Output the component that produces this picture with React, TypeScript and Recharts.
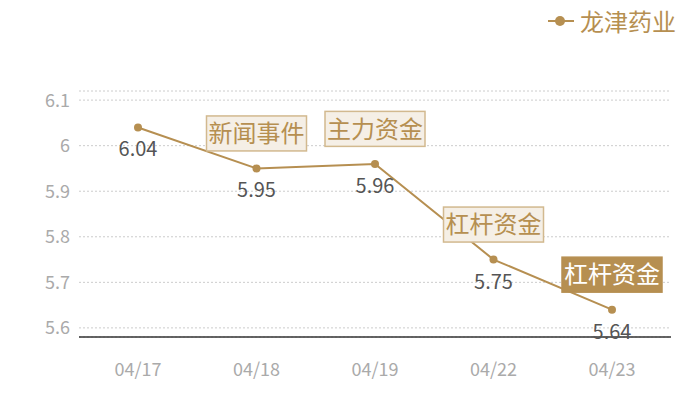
import React from "react";
import {
  LineChart,
  Line,
  XAxis,
  YAxis,
  CartesianGrid,
  LabelList,
} from "recharts";

const dates = ["04/17", "04/18", "04/19", "04/22", "04/23"];
const prices = [6.04, 5.95, 5.96, 5.75, 5.64];
const events = ["", "新闻事件", "主力资金", "杠杆资金", "杠杆资金"];
const highlighted = [false, false, false, false, true];
const yTicks = [5.6, 5.7, 5.8, 5.9, 6, 6.1];

const seriesName = "龙津药业";
const gold = "#b68f51";
const font = '"Noto Sans CJK SC", "Noto Sans", sans-serif';

const data = dates.map((d, i) => ({
  date: d,
  price: prices[i],
}));

const PointLabel = (props: any) => {
  const { x, y, value, index } = props;
  const ev = events[index];
  const hot = highlighted[index];
  const w = 100;
  const h = 35;
  return (
    <g>
      <text
        x={x}
        y={y + 29}
        textAnchor="middle"
        fill="#555"
        fontSize={20}
        fontFamily={font}
      >
        {value}
      </text>
      {ev ? (
        <g>
          <rect
            x={x - w / 2}
            y={y - 35 - h / 2}
            width={w}
            height={h}
            fill={hot ? gold : "#f5efe6"}
            stroke={hot ? gold : "#d2b98f"}
            strokeWidth={1.5}
          />
          <text
            x={x}
            y={y - 35}
            dy="0.36em"
            textAnchor="middle"
            fill={hot ? "#fff" : gold}
            fontSize={24}
            fontFamily={font}
          >
            {ev}
          </text>
        </g>
      ) : null}
    </g>
  );
};

export default function App() {
  return (
    <div style={{ position: "relative", width: 700, height: 400, fontFamily: font }}>
      <style>{`body{margin:0}`}</style>
      <div
        style={{
          position: "absolute",
          top: 3,
          right: 24,
          display: "flex",
          alignItems: "center",
          color: gold,
          fontSize: 24,
          zIndex: 2,
        }}
      >
        <svg width={26} height={12} style={{ marginRight: 6 }}>
          <line x1={0} y1={6} x2={26} y2={6} stroke={gold} strokeWidth={2} />
          <circle cx={12} cy={6} r={5} fill={gold} />
        </svg>
        <span>{seriesName}</span>
      </div>
      <LineChart
        width={700}
        height={400}
        data={data}
        margin={{ top: 91, right: 29, bottom: 33, left: 0 }}
      >
        <CartesianGrid
          vertical={false}
          stroke="#cccccc"
          strokeDasharray="2 2"
        />
        <XAxis
          dataKey="date"
          padding={{ left: 59, right: 59 }}
          axisLine={{ stroke: "#333", strokeWidth: 1.5 }}
          tickLine={false}
          tickSize={0}
          tickMargin={26}
          height={30}
          tick={{ fill: "#aaa", fontSize: 18, fontFamily: font }}
        />
        <YAxis
          width={79}
          domain={[5.58, 6.12]}
          ticks={yTicks}
          axisLine={false}
          tickLine={false}
          tickSize={0}
          tickMargin={9}
          tick={{ fill: "#aaa", fontSize: 18, fontFamily: font }}
          tickFormatter={(v) => String(v)}
        />
        <Line
          type="linear"
          dataKey="price"
          name={seriesName}
          stroke={gold}
          strokeWidth={2}
          dot={{ r: 4, fill: gold, stroke: gold, strokeWidth: 0 }}
          isAnimationActive={false}
        >
          <LabelList dataKey="price" content={<PointLabel />} />
        </Line>
      </LineChart>
    </div>
  );
}
